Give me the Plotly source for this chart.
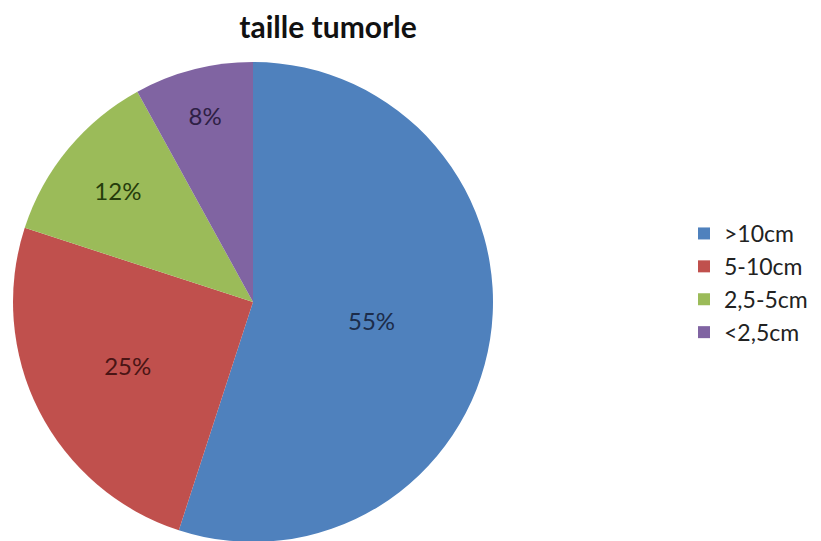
import plotly.graph_objects as go

categories = [">10cm", "5-10cm", "2,5-5cm", "<2,5cm"]
values = [55, 25, 12, 8]
colors = ["#4F81BD", "#C0504D", "#9BBB59", "#8064A2"]
text_colors = ["#1c2c4a", "#4a1515", "#263d0c", "#2e1f45"]

W, H = 821, 541
OFF = 8  # page body margin

fig = go.Figure(go.Pie(
    labels=categories,
    values=values,
    sort=False,
    direction="clockwise",
    rotation=0,
    marker=dict(colors=colors, line=dict(width=0)),
    textinfo="percent",
    texttemplate="%{percent:.0%}",
    textposition="inside",
    insidetextorientation="horizontal",
    insidetextfont=dict(family="Lato, Open Sans, sans-serif", size=24, color=text_colors),
    domain=dict(x=[(13 - OFF) / W, (493 - OFF) / W],
                y=[1 - (542 - OFF) / H, 1 - (62 - OFF) / H]),
    hoverinfo="label+percent",
))

fig.update_layout(
    width=W, height=H,
    margin=dict(l=0, r=0, t=0, b=0),
    paper_bgcolor="white",
    plot_bgcolor="white",
    title=dict(text="<b>taille tumorle</b>", x=(328 - OFF) / W, xanchor="center",
               y=1 - (27 - OFF) / H, yanchor="middle",
               font=dict(family="Lato, Open Sans, sans-serif", size=30, color="#111111")),
    legend=dict(x=(684 - OFF) / W, xanchor="left", y=1 - (283 - OFF) / H, yanchor="middle",
                font=dict(family="Lato, Open Sans, sans-serif", size=23, color="#222222"),
                traceorder="normal"),
    showlegend=True,
)

fig.write_html("out.html")
